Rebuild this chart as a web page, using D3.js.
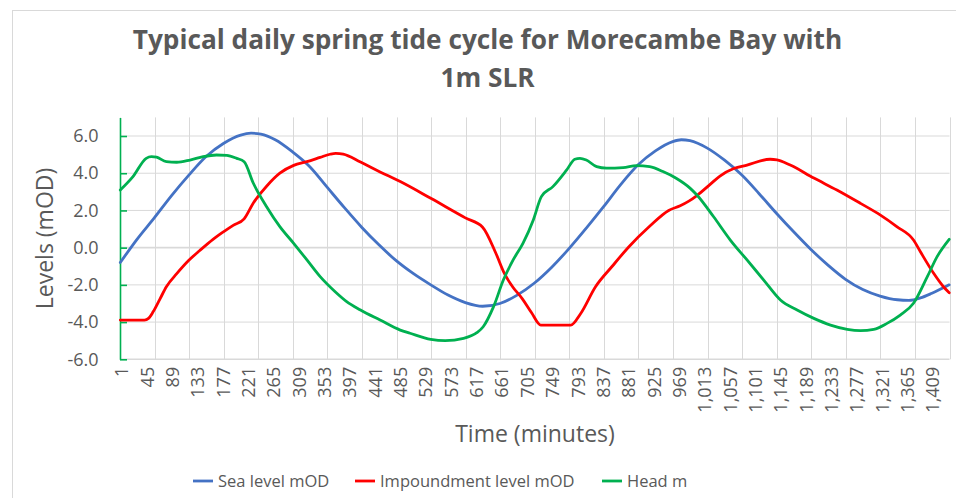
<!DOCTYPE html>
<html><head><meta charset="utf-8">
<script src="https://cdn.jsdelivr.net/npm/d3@7"></script>
<style>
body{margin:0;background:#fff}
svg{display:block}
text{font-family:'Open Sans',sans-serif;fill:#595959}
</style>
</head><body>
<svg id="c" width="956" height="498"></svg>
<script>
// ---------- data ----------
const titleLines = ["Typical daily spring tide cycle for Morecambe Bay with", "1m SLR"];
const yAxisTitle = "Levels (mOD)";
const xAxisTitle = "Time (minutes)";
const seriesNames = ["Sea level mOD", "Impoundment level mOD", "Head m"];
const seriesColors = ["#4472c4", "#ff0000", "#00b050"];
const yTicks = [-6, -4, -2, 0, 2, 4, 6];
const xTickLabels = [1,45,89,133,177,221,265,309,353,397,441,485,529,573,617,661,705,749,793,837,881,925,969,1013,1057,1101,1145,1189,1233,1277,1321,1365,1409];

const seaMin   = [1,30,60,90,120,150,180,210,228,245,270,300,330,360,390,420,450,480,510,540,570,600,630,660,690,720,750,780,810,840,870,900,930,960,975,990,1020,1050,1080,1110,1140,1170,1200,1230,1260,1290,1320,1350,1370,1390,1410,1440];
const seaLevel = [-0.8,0.45,1.6,2.8,3.9,4.9,5.6,6.05,6.15,6.1,5.8,5.15,4.35,3.25,2.15,1.1,0.15,-0.7,-1.4,-2.0,-2.55,-2.95,-3.15,-3.0,-2.55,-1.9,-1.05,-0.05,1.05,2.2,3.4,4.45,5.2,5.7,5.8,5.75,5.35,4.7,3.9,2.9,1.85,0.85,-0.1,-0.95,-1.7,-2.25,-2.6,-2.8,-2.83,-2.7,-2.45,-2.0];

const impMin   = [1,43,50,58,70,81,99,120,139,162,180,197,216,232,255,278,302,325,348,365,375,388,418,452,487,540,600,630,653,668,682,699,715,731,783,800,826,855,884,919,953,973,988,1002,1025,1042,1066,1089,1129,1141,1164,1205,1245,1286,1320,1349,1378,1390,1413,1430,1440];
const impLevel = [-3.89,-3.89,-3.8,-3.45,-2.75,-2.1,-1.4,-0.68,-0.15,0.45,0.85,1.2,1.55,2.4,3.3,4.0,4.42,4.62,4.85,5.02,5.07,5.03,4.6,4.07,3.55,2.65,1.6,1.1,-0.3,-1.4,-2.1,-2.75,-3.5,-4.16,-4.16,-3.55,-2.1,-1.0,0.05,1.12,2.0,2.25,2.5,2.8,3.4,3.85,4.25,4.44,4.75,4.72,4.44,3.74,3.1,2.38,1.76,1.13,0.41,-0.22,-1.38,-2.1,-2.42];

const headMin   = [1,23,46,55,64,81,99,122,145,168,186,203,216,232,255,278,302,325,348,374,394,418,452,487,504,540,565,597,620,631,649,666,683,700,718,732,752,776,790,799,810,828,845,874,897,920,943,966,990,1002,1031,1060,1089,1118,1147,1176,1205,1234,1263,1286,1309,1332,1355,1378,1402,1419,1440];
const headLevel = [3.1,3.82,4.8,4.89,4.86,4.62,4.59,4.71,4.89,4.98,4.96,4.8,4.62,3.46,2.2,1.13,0.23,-0.66,-1.56,-2.37,-2.9,-3.35,-3.89,-4.43,-4.6,-4.93,-5.0,-4.87,-4.57,-4.25,-3.17,-1.74,-0.66,0.23,1.49,2.74,3.28,4.18,4.75,4.8,4.71,4.35,4.27,4.3,4.41,4.35,4.09,3.73,3.2,2.83,1.66,0.41,-0.66,-1.74,-2.81,-3.35,-3.8,-4.16,-4.39,-4.46,-4.39,-4.07,-3.62,-2.99,-1.56,-0.48,0.45];

// ---------- layout ----------
const svg = d3.select("#c");
const plot = {left: 120, right: 949.5, top: 117.4, bottom: 359.3};
const grid = "#d9d9d9";

svg.append("rect").attr("x",12.5).attr("y",10.5).attr("width",1200).attr("height",1200)
  .attr("fill","none").attr("stroke",grid).attr("stroke-width",1);

const x = d3.scaleLinear().domain([0.5, 1440.5]).range([plot.left, plot.right]);
const y = d3.scaleLinear().domain([-6, 7]).range([plot.bottom, plot.top]);

// vertical gridlines every 60 categories
const vGrid = d3.range(1, 25).map(k => 60 * k + 0.5);
svg.append("g").selectAll("line").data(vGrid).join("line")
  .attr("x1", d => Math.round(x(d)) + 0.5).attr("x2", d => Math.round(x(d)) + 0.5)
  .attr("y1", plot.top).attr("y2", plot.bottom)
  .attr("stroke", grid).attr("stroke-width", 1);

// horizontal gridlines
svg.append("g").selectAll("line").data(yTicks).join("line")
  .attr("x1", plot.left).attr("x2", plot.right)
  .attr("y1", d => y(d)).attr("y2", d => y(d))
  .attr("stroke", grid).attr("stroke-width", d => (d === 0 || d === -6) ? 1.6 : 1);

// y axis (green line, inside ticks)
const yAxis = d3.axisLeft(y).tickValues(yTicks).tickFormat(d => d.toFixed(1))
  .tickSizeInner(-7).tickSizeOuter(0).tickPadding(21.5);
const gy = svg.append("g").attr("transform", `translate(${plot.left},0)`).call(yAxis);
gy.select(".domain").attr("stroke", "#00b050").attr("stroke-width", 1.6);
gy.selectAll(".tick line").attr("stroke", "#00b050").attr("stroke-width", 1.6);
gy.selectAll("text").attr("fill", "#595959").style("font-size", "18px")
  .style("font-family", "'Open Sans',sans-serif");

// x axis labels (rotated)
const xAxis = d3.axisBottom(x).tickValues(xTickLabels).tickFormat(d3.format(",")).tickSize(0);
const gx = svg.append("g").attr("transform", `translate(0,${plot.bottom})`).call(xAxis);
gx.select(".domain").remove();
gx.selectAll("text")
  .attr("transform", "rotate(-90)")
  .attr("x", -7.5).attr("y", 1.2).attr("dy", "0.35em")
  .attr("text-anchor", "end")
  .attr("fill", "#595959").style("font-size", "18px")
  .style("font-family", "'Open Sans',sans-serif");

// series
const series = [
  {name: seriesNames[0], color: seriesColors[0], mins: seaMin, vals: seaLevel},
  {name: seriesNames[1], color: seriesColors[1], mins: impMin, vals: impLevel},
  {name: seriesNames[2], color: seriesColors[2], mins: headMin, vals: headLevel}
];
const line = d3.line().x(d => x(d[0])).y(d => y(d[1])).curve(d3.curveMonotoneX);
svg.append("g").selectAll("path").data(series).join("path")
  .attr("d", s => line(s.mins.map((m, i) => [m, s.vals[i]])))
  .attr("fill", "none").attr("stroke", s => s.color)
  .attr("stroke-width", 2.8).attr("stroke-linejoin", "round").attr("stroke-linecap", "round");

// titles
const t = svg.append("g");
const t1 = t.append("text").attr("x", 487.5).attr("y", 49).attr("text-anchor", "middle")
  .style("font-weight", "700").style("font-size", "26px").text(titleLines[0]);
let w = t1.node().getComputedTextLength();
const fs = 26 * 710 / w;
t1.style("font-size", fs + "px");
t.append("text").attr("x", 487.5).attr("y", 86.7).attr("text-anchor", "middle")
  .style("font-weight", "700").style("font-size", fs + "px").text(titleLines[1]);

svg.append("text").attr("transform", "translate(53,238.5) rotate(-90)")
  .attr("text-anchor", "middle").style("font-size", "23px").text(yAxisTitle);
svg.append("text").attr("x", 535).attr("y", 441.7)
  .attr("text-anchor", "middle").style("font-size", "23px").text(xAxisTitle);

// legend
const legX = [193, 355, 602];
const legY = 481;
const lg = svg.append("g").selectAll("g").data(series).join("g")
  .attr("transform", (d, i) => `translate(${legX[i]},${legY})`);
lg.append("line").attr("x1", 0).attr("x2", 20).attr("y1", 0).attr("y2", 0)
  .attr("stroke", d => d.color).attr("stroke-width", 2.8);
lg.append("text").attr("x", 25).attr("y", 0).attr("dy", "0.36em")
  .style("font-size", "16.5px").text(d => d.name);
</script>
</body></html>
